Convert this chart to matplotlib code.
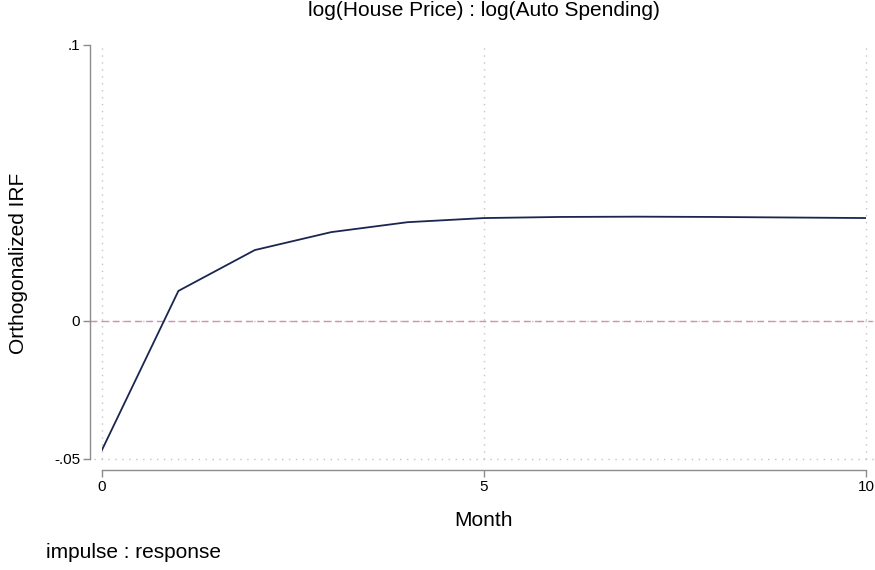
import matplotlib.pyplot as plt
import matplotlib.transforms as mtransforms
import numpy as np

plt.rcParams['font.family'] = ['Liberation Sans', 'DejaVu Sans']

# orthogonalized impulse response, months 0..10
month = [0, 1, 2, 3, 4, 5, 6, 7, 8, 9, 10]
irf = [-0.0467, 0.0109, 0.0257, 0.0322, 0.0358, 0.0373, 0.0377, 0.0378, 0.0377, 0.0375, 0.0373]
xticks = [0, 5, 10]
yticks = [-0.05, 0, 0.1]
ytick_labels = ['-.05', '0', '.1']

fig = plt.figure(figsize=(8.75, 5.7), dpi=100)
ax = fig.add_axes([102/875, 111/570, 764/875, 414/570])

ax.plot(month, irf, color='#1a2650', lw=1.3, zorder=3)

# zero reference line, runs a little past the plot region
trans = mtransforms.blended_transform_factory(ax.transAxes, ax.transData)
ax.plot([-0.016, 1.008], [0, 0], transform=trans, color='#d98cb5', lw=1.0,
        ls=(0, (5, 3)), clip_on=False, zorder=2)

ax.set_xlim(0, 10)
ax.set_ylim(-0.05, 0.1)
ax.set_xticks(xticks)
ax.set_yticks(yticks)
ax.set_yticklabels(ytick_labels)

# dotted grid: vertical at every x tick, horizontal only below the top
grid_kw = dict(color='#c4c4c4', ls=(0, (1, 4)), lw=1.0)
xtrans = mtransforms.blended_transform_factory(ax.transData, ax.transAxes)
for xv in xticks:
    ax.plot([xv, xv], [0, 1.0], transform=xtrans, clip_on=False,
            zorder=1, **grid_kw)
for yv in yticks[:-1]:
    ax.plot([-0.01, 1.01], [yv, yv], transform=trans, clip_on=False,
            zorder=1, **grid_kw)

for s in ['top', 'right']:
    ax.spines[s].set_visible(False)
ax.spines['left'].set_position(('outward', 8.6))
ax.spines['bottom'].set_position(('outward', 7.9))
ax.spines['left'].set_bounds(-0.05, 0.1)
ax.spines['bottom'].set_bounds(0, 10)
for s in ['left', 'bottom']:
    ax.spines[s].set_color('#8c8c8c')
    ax.spines[s].set_linewidth(1.0)
ax.tick_params(axis='both', colors='#8c8c8c', length=5, width=1.0,
               labelsize=11, labelcolor='black', pad=2)

fig.text(484/875, 1 - 11/570, 'log(House Price) : log(Auto Spending)',
         ha='center', va='center', fontsize=15)
fig.text(19/875, 1 - 263/570, 'Orthogonalized IRF', rotation=90,
         ha='center', va='center', fontsize=15)
fig.text(484/875, 1 - 520/570, 'Month', ha='center', va='center', fontsize=15)
fig.text(46/875, 1 - 553/570, 'impulse : response', ha='left', va='center',
         fontsize=15)

fig.savefig('out.png', dpi=100)
